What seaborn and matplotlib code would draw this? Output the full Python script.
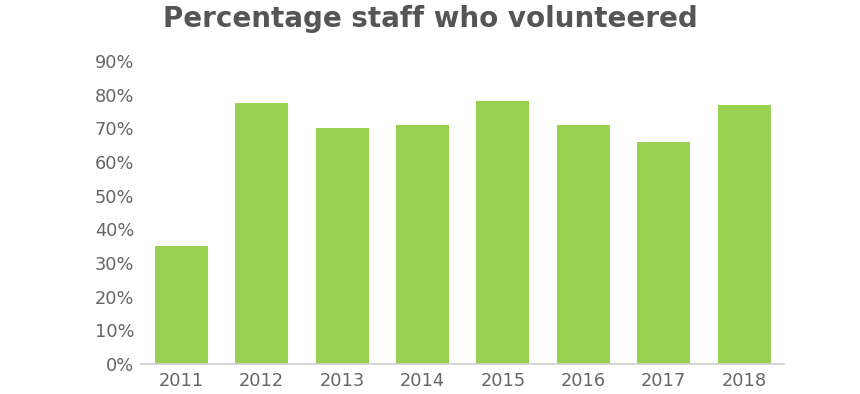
import matplotlib
matplotlib.use("Agg")
import matplotlib.pyplot as plt
import seaborn as sns
import pandas as pd
from matplotlib.ticker import PercentFormatter

years = ["2011", "2012", "2013", "2014", "2015", "2016", "2017", "2018"]
values = [35, 77.5, 70, 71, 78, 71, 66, 77]
yticks = [0, 10, 20, 30, 40, 50, 60, 70, 80, 90]

df = pd.DataFrame({"year": years, "pct": values})

sns.set_theme(style="white")
plt.rcParams["font.family"] = ["DejaVu Sans"]

fig = plt.figure(figsize=(8.6, 3.94), dpi=100)
ax = fig.add_axes([0.164, 0.076, 0.748, 0.769])
sns.barplot(data=df, x="year", y="pct", color="#98d14f", width=0.66,
            saturation=1, ax=ax, edgecolor="none")
ax.set_xlim(-0.5, 7.5)
ax.set_ylim(0, 90)
ax.set_yticks(yticks)
ax.yaxis.set_major_formatter(PercentFormatter(decimals=0))
ax.set_xlabel("")
ax.set_ylabel("")
for s in ["top", "right", "left"]:
    ax.spines[s].set_visible(False)
ax.spines["bottom"].set_color("#d0d0d0")
ax.spines["bottom"].set_linewidth(1.2)
ax.tick_params(axis="both", colors="#666666", labelsize=12.8, length=0)
ax.tick_params(axis="y", pad=5)
ax.tick_params(axis="x", pad=6)
fig.text(0.5, 0.953, "Percentage staff who volunteered", ha="center", va="center",
         fontsize=20, fontweight="bold", color="#555555")
fig.savefig("out.png", dpi=100, facecolor="white")
